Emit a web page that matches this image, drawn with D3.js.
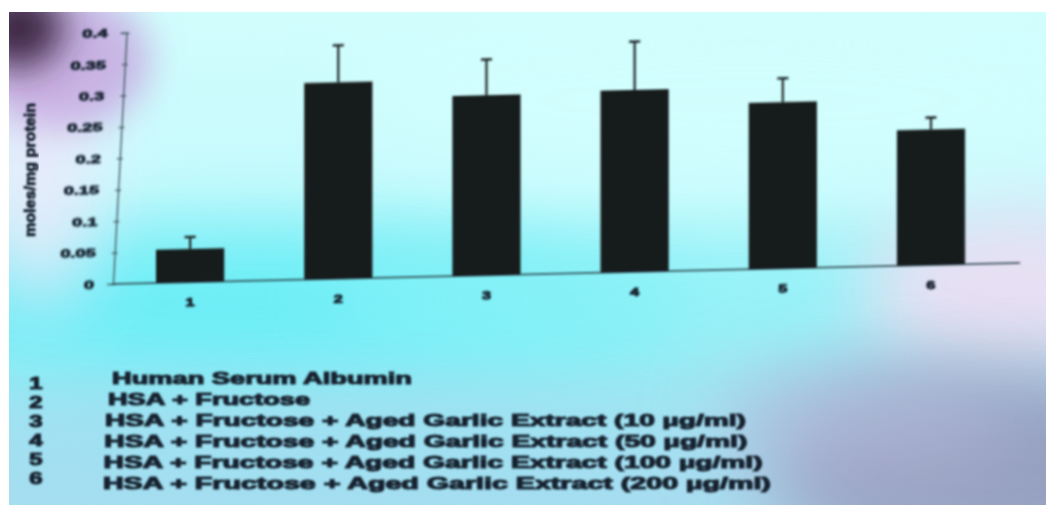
<!DOCTYPE html>
<html>
<head>
<meta charset="utf-8">
<script src="https://cdn.jsdelivr.net/npm/d3@7"></script>
<style>
  html, body { margin: 0; padding: 0; background: #ffffff; }
  svg { display: block; }
  text { font-family: "Liberation Sans", Arial, sans-serif; font-weight: bold; }
</style>
</head>
<body>
<svg id="chart" width="1046" height="505"></svg>
<script>
// Treatment groups and measured means (moles/mg protein) with SD whiskers
const categories = ["1", "2", "3", "4", "5", "6"];
const means = [0.053, 0.313, 0.287, 0.290, 0.265, 0.216];
const errors = [0.019, 0.059, 0.057, 0.077, 0.038, 0.019];
const yTicks = [0, 0.05, 0.1, 0.15, 0.2, 0.25, 0.3, 0.35, 0.4];
const yTickLabels = ["0", "0.05", "0.1", "0.15", "0.2", "0.25", "0.3", "0.35", "0.4"];
const yTitle = "moles/mg protein";
const legendLabels = [
  "Human Serum Albumin",
  "HSA + Fructose",
  "HSA + Fructose + Aged Garlic Extract (10 µg/ml)",
  "HSA + Fructose + Aged Garlic Extract (50 µg/ml)",
  "HSA + Fructose + Aged Garlic Extract (100 µg/ml)",
  "HSA + Fructose + Aged Garlic Extract (200 µg/ml)"
];

const svg = d3.select("#chart");
const defs = svg.append("defs");

// ---- paper background: tinted print under uneven light ----
const base = defs.append("linearGradient").attr("id", "paperV")
  .attr("gradientUnits", "userSpaceOnUse").attr("x1", 0).attr("y1", 12).attr("x2", 0).attr("y2", 505);
[[0, "#d2fdfd"], [0.35, "#c6fafc"], [0.55, "#a6f2f8"], [0.75, "#a2e6f3"], [1, "#a9dcf0"]]
  .forEach(([o, c]) => base.append("stop").attr("offset", o).attr("stop-color", c));

defs.append("clipPath").attr("id", "paperClip")
  .append("rect").attr("x", 9).attr("y", 12).attr("width", 1037).attr("height", 493);

const glow = defs.append("filter").attr("id", "glow")
  .attr("x", "-60%").attr("y", "-60%").attr("width", "220%").attr("height", "220%");
glow.append("feGaussianBlur").attr("stdDeviation", 38);
const glowSmall = defs.append("filter").attr("id", "glowSmall")
  .attr("x", "-80%").attr("y", "-80%").attr("width", "260%").attr("height", "260%");
glowSmall.append("feGaussianBlur").attr("stdDeviation", 18);

const paper = svg.append("g").attr("clip-path", "url(#paperClip)");
paper.append("rect").attr("x", 9).attr("y", 12).attr("width", 1037).attr("height", 493)
  .attr("fill", "url(#paperV)");

// light patches: [cx, cy, rx, ry, colour, opacity, filter]
const patches = [
  [260, 305, 430, 75, "#6aeef6", 0.95, "glow"],
  [700, 300, 380, 60, "#8ff3f8", 0.7, "glow"],
  [300, 450, 380, 55, "#9fdff1", 0.8, "glow"],
  [40, 160, 55, 150, "#ebe9fa", 0.95, "glow"],
  [1010, 290, 150, 90, "#ecdff3", 0.95, "glow"],
  [1000, 470, 230, 100, "#969dbe", 0.95, "glow"],
  [860, 420, 150, 60, "#b4b8d8", 0.6, "glow"],
  [60, 60, 90, 70, "#c6a8e0", 0.85, "glowSmall"],
  [18, 28, 45, 40, "#3c2744", 1, "glowSmall"],
  [750, 100, 400, 90, "#d3fefe", 0.8, "glow"]
];
paper.selectAll("ellipse").data(patches).join("ellipse")
  .attr("cx", d => d[0]).attr("cy", d => d[1])
  .attr("rx", d => d[2]).attr("ry", d => d[3])
  .attr("fill", d => d[4]).attr("opacity", d => d[5])
  .attr("filter", d => `url(#${d[6]})`);

// soft focus of the print
defs.append("filter").attr("id", "soft").attr("x", "-5%").attr("y", "-5%").attr("width", "110%").attr("height", "110%")
  .append("feGaussianBlur").attr("stdDeviation", 1);

const ink = "#152330";

// stretch a text element horizontally by a factor
function stretch(sel, factor) {
  sel.each(function () {
    const w = this.getComputedTextLength();
    d3.select(this).attr("textLength", w * factor).attr("lengthAdjust", "spacingAndGlyphs");
  });
}
// heavy, ink-spread lettering
function heavy(sel, w) {
  sel.attr("fill", ink).attr("stroke", ink).attr("stroke-width", w).attr("stroke-linejoin", "round");
}

// ---- plot frame: origin at the axis corner, tilted as printed ----
const origin = { x: 113, y: 284 };
const plot = svg.append("g")
  .attr("filter", "url(#soft)")
  .attr("transform", `translate(${origin.x},${origin.y}) skewY(-1.33)`);

const x = d3.scaleBand().domain(categories).range([3, 892])
  .paddingInner(0.54).paddingOuter(0.27);
const y = d3.scaleLinear().domain([0, 0.4]).range([0, -251]);

// baseline
plot.append("line").attr("x1", 0).attr("x2", 907).attr("y1", 0).attr("y2", 0)
  .attr("stroke", "#2a3c44").attr("stroke-width", 1.6);

// y axis (leaning slightly)
const yAxisG = plot.append("g").attr("transform", "skewX(-3.1)");
const yAxis = d3.axisLeft(y).tickValues(yTicks)
  .tickFormat((d, i) => yTickLabels[i]).tickSize(6).tickPadding(13);
yAxisG.call(yAxis);
yAxisG.select(".domain").attr("stroke", "#3b535c").attr("stroke-width", 1.3);
yAxisG.selectAll(".tick line").attr("stroke", "#3b535c").attr("stroke-width", 1.2)
  .attr("transform", "translate(3,0)");
yAxisG.selectAll(".tick text")
  .attr("font-size", 11)
  .attr("font-family", "'Liberation Sans', Arial, sans-serif").attr("font-weight", "bold")
  .call(heavy, 0.8)
  .call(stretch, 1.65);

// bars
plot.selectAll("rect.bar").data(means).join("rect")
  .attr("class", "bar")
  .attr("x", (d, i) => x(categories[i]))
  .attr("width", x.bandwidth())
  .attr("y", d => y(d))
  .attr("height", d => y(0) - y(d))
  .attr("fill", "#151d1f");

// upper error whiskers with caps
const err = plot.selectAll("g.err").data(means).join("g").attr("class", "err");
err.append("line")
  .attr("x1", (d, i) => x(categories[i]) + x.bandwidth() / 2)
  .attr("x2", (d, i) => x(categories[i]) + x.bandwidth() / 2)
  .attr("y1", d => y(d))
  .attr("y2", (d, i) => y(d + errors[i]))
  .attr("stroke", "#1b2528").attr("stroke-width", 2.2);
err.append("line")
  .attr("x1", (d, i) => x(categories[i]) + x.bandwidth() / 2 - 5.5)
  .attr("x2", (d, i) => x(categories[i]) + x.bandwidth() / 2 + 5.5)
  .attr("y1", (d, i) => y(d + errors[i]))
  .attr("y2", (d, i) => y(d + errors[i]))
  .attr("stroke", "#1b2528").attr("stroke-width", 2.4);

// category numbers under the bars
plot.selectAll("text.cat").data(categories).join("text")
  .attr("class", "cat")
  .attr("x", d => x(d) + x.bandwidth() / 2)
  .attr("y", 24)
  .attr("text-anchor", "middle")
  .attr("font-size", 11.5)
  .call(heavy, 1)
  .text(d => d)
  .call(stretch, 1.4);

// y-axis title
svg.append("text")
  .attr("filter", "url(#soft)")
  .attr("transform", "translate(35,170) rotate(-90)")
  .attr("text-anchor", "middle")
  .attr("font-size", 15)
  .call(heavy, 0.8)
  .attr("textLength", 134).attr("lengthAdjust", "spacingAndGlyphs")
  .text(yTitle);

// ---- key below the chart ----
const key = svg.append("g").attr("filter", "url(#soft)");
const keyWidths = [300, 202, 641, 643, 659, 668];
key.selectAll("text.num").data(categories).join("text")
  .attr("class", "num")
  .attr("x", 36)
  .attr("y", (d, i) => 389 + i * 19)
  .attr("text-anchor", "middle")
  .attr("font-size", 16.5)
  .call(heavy, 1.1)
  .text(d => d)
  .call(stretch, 1.45);
key.selectAll("text.lab").data(legendLabels).join("text")
  .attr("class", "lab")
  .attr("x", (d, i) => i === 0 ? 112 : (i === 1 ? 108 : 105 - (i - 2) * 0.7))
  .attr("y", (d, i) => 384 + i * 21)
  .attr("font-size", 16.5)
  .call(heavy, 1.1)
  .attr("textLength", (d, i) => keyWidths[i])
  .attr("lengthAdjust", "spacingAndGlyphs")
  .text(d => d);
</script>
</body>
</html>
